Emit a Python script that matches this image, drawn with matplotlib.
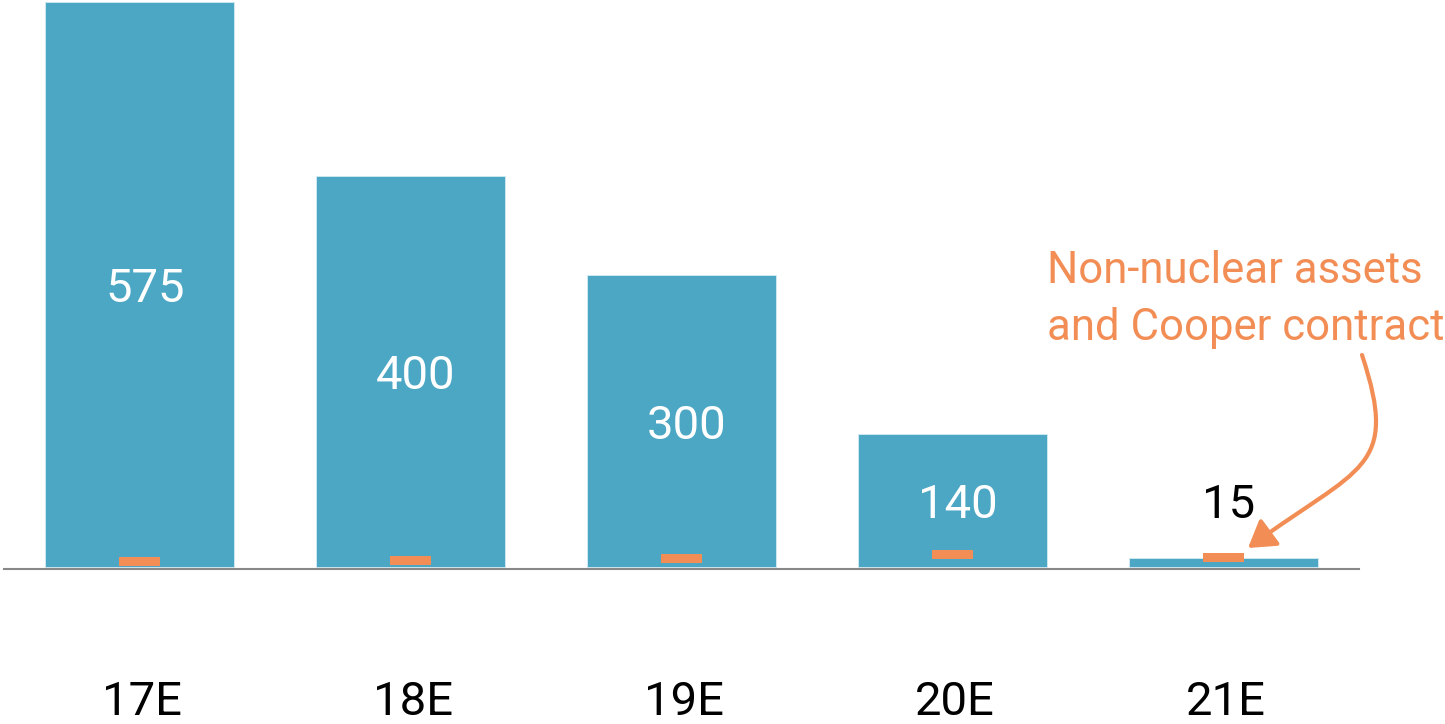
import matplotlib
matplotlib.use("Agg")
import matplotlib.pyplot as plt
from matplotlib.transforms import blended_transform_factory
from matplotlib.patches import FancyArrowPatch
from matplotlib.path import Path

# ---- data ----
categories = ["17E", "18E", "19E", "20E", "21E"]
bar_values = [575, 398, 297, 135.5, 9.5]
value_labels = ["575", "400", "300", "140", "15"]
orange_bottom = [1.3, 2.3, 4.4, 8.5, 5.4]
orange_height = [8.9, 8.9, 8.9, 8.9, 8.9]
annotation_lines = ["Non-nuclear assets", "and Cooper contract"]

BLUE = "#4BA7C4"
ORANGE = "#F28E55"
GRAY = "#888888"
FONT = ["Roboto", "DejaVu Sans"]

W, H = 1445, 724
fig = plt.figure(figsize=(W / 100, H / 100), dpi=100)
ax_left, ax_right = 4 / W, 1359 / W
ax_top_px, ax_bot_px = 0, 569.3
ax = fig.add_axes([ax_left, 1 - ax_bot_px / H, ax_right - ax_left, (ax_bot_px - ax_top_px) / H])

x = list(range(len(categories)))
ax.bar(x, bar_values, width=0.694, color=BLUE, edgecolor="#d6ecf3", linewidth=0.6, zorder=2)
ax.bar(x, orange_height, bottom=orange_bottom, width=0.151, color=ORANGE, linewidth=0, zorder=3)

ax.set_xlim(-0.5, 4.5)
ax.set_ylim(-2.34, 577.4)

for s in ["top", "right", "left"]:
    ax.spines[s].set_visible(False)
ax.spines["bottom"].set_color(GRAY)
ax.spines["bottom"].set_linewidth(1.5)
ax.set_xticks([])
ax.set_yticks([])

# value labels (centered in bar, last one above the bar)
for i, (v, lab) in enumerate(zip(bar_values, value_labels)):
    if i < len(bar_values) - 1:
        yc, col = v / 2, "white"
    else:
        yc, col = 68, "black"
    ax.annotate(lab, xy=(i + 0.02, yc), xytext=(0, -12.6), textcoords="offset points",
                ha="center", va="baseline", fontsize=34, color=col,
                family=FONT, fontweight="normal", zorder=5)

# category labels
trans = blended_transform_factory(ax.transData, fig.transFigure)
for i, c in enumerate(categories):
    ax.text(i + 0.01, 1 - 715 / H, c, transform=trans, ha="center", va="baseline",
            fontsize=34, color="black", family=FONT, fontweight="normal", clip_on=False)

# annotation text
fig.text(1047 / W, 1 - 283 / H, annotation_lines[0], ha="left", va="baseline",
         fontsize=31.5, color=ORANGE, family=FONT, fontweight="normal")
fig.text(1047 / W, 1 - 340 / H, annotation_lines[1], ha="left", va="baseline",
         fontsize=31.5, color=ORANGE, family=FONT, fontweight="normal")

# curved arrow (pixel coords -> inches)
pts_px = [(1362, 355), (1400, 470), (1360, 466), (1248, 548)]
verts = [(px / 100, (H - py) / 100) for px, py in pts_px]
path = Path(verts, [Path.MOVETO, Path.CURVE4, Path.CURVE4, Path.CURVE4])
arrow = FancyArrowPatch(path=path, arrowstyle="-|>,head_length=0.8,head_width=0.5",
                        mutation_scale=20, color=ORANGE, linewidth=3,
                        transform=fig.dpi_scale_trans, zorder=6)
fig.add_artist(arrow)

fig.savefig("out.png", dpi=100, facecolor="white")
